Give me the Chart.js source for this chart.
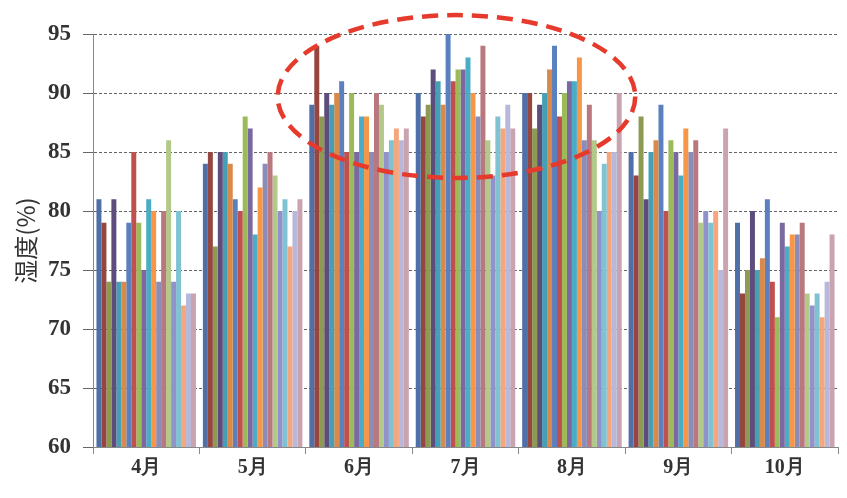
<!DOCTYPE html>
<html><head><meta charset="utf-8">
<script src="https://cdn.jsdelivr.net/npm/chart.js@4"></script>
<style>html,body{margin:0;padding:0;background:#fff}#wrap{width:847px;height:498px;position:relative}</style>
</head><body><div id="wrap"><canvas id="c" width="847" height="498"></canvas></div>
<script>
const months = ['4月','5月','6月','7月','8月','9月','10月'];
const apr = [81,79,74,81,74,74,79,85,79,75,81,80,74,80,86,74,80,72,73,73];
const may = [84,85,77,85,85,84,81,80,88,87,78,82,84,85,83,80,81,77,80,81];
const jun = [89,94,88,90,89,90,91,85,90,85,88,88,85,90,89,85,86,87,86,87];
const jul = [90,88,89,92,91,89,95,91,92,92,93,90,88,94,86,83,88,87,89,87];
const aug = [90,90,87,89,90,92,94,88,90,91,91,93,86,89,86,80,84,85,85,90];
const sep = [85,83,88,81,85,86,89,80,86,85,83,87,85,86,79,80,79,80,75,87];
const oct = [79,73,75,80,75,76,81,74,71,79,77,78,78,79,73,72,73,71,74,78];
const yTicks = [60,65,70,75,80,85,90,95];
const yTitle = '湿度(%)';
// annotation ellipse (in data units: category index and humidity)
const ellCenterIdx = 2.915, ellHalfWidthIdx = 1.68, ellTop = 96.6, ellBottom = 82.8;

const colors = ['#4F6FA8','#94463F','#8D9A52','#5C4D7D','#46A0B5','#D98A4A','#5A80C0','#C0504D','#9BBB59','#7B68A0',
                '#4BACC6','#F79646','#8A8DBA','#B9787E','#B3C98A','#8F93C9','#7FC3D3','#F4A77E','#B8B8DA','#C9A3B0'];
const byMonth = [apr, may, jun, jul, aug, sep, oct];
const datasets = colors.map((c,i)=>({
  label:'S'+(i+1), data: byMonth.map(m=>m[i]), backgroundColor:c, borderWidth:0,
  barPercentage:1, categoryPercentage:0.935
}));

const ellipsePlugin = {
  id:'ellipse',
  afterDatasetsDraw(chart){
    const {ctx, scales:{x,y}} = chart;
    const cx = x.getPixelForValue(ellCenterIdx);
    const rx = x.getPixelForValue(ellCenterIdx+ellHalfWidthIdx) - cx;
    const yt = y.getPixelForValue(ellTop), yb = y.getPixelForValue(ellBottom);
    ctx.save();
    ctx.beginPath();
    ctx.ellipse(cx,(yt+yb)/2,rx,(yb-yt)/2,0,0,Math.PI*2);
    ctx.setLineDash([16,9]);
    ctx.lineWidth = 4.5;
    ctx.strokeStyle = '#E53A2C';
    ctx.stroke();
    ctx.restore();
  }
};

new Chart(document.getElementById('c').getContext('2d'), {
  type:'bar',
  data:{labels:months, datasets},
  plugins:[ellipsePlugin],
  options:{
    responsive:false, animation:false, devicePixelRatio:1,
    layout:{padding:{top:34,right:9,left:0,bottom:0}},
    plugins:{legend:{display:false}, tooltip:{enabled:false}},
    scales:{
      x:{
        grid:{display:true, drawOnChartArea:false, drawTicks:true, tickLength:7, color:'#888', offset:true},
        border:{display:true, color:'#888'},
        ticks:{font:{family:'Liberation Serif', size:20, weight:'bold'}, color:'#333', padding:2},
        afterFit:s=>{s.height=51;}
      },
      y:{
        min:60, max:95,
        afterBuildTicks:s=>{s.ticks = yTicks.map(v=>({value:v}));},
        ticks:{font:{family:'Liberation Serif', size:23, weight:'bold'}, color:'#333', padding:12},
        grid:{color:'#666', tickLength:10},
        border:{display:true, color:'#888', dash:[3,2]},
        title:{display:true, text:yTitle, font:{family:'Noto Sans CJK SC', size:24}, color:'#333', padding:{top:11,bottom:0}},
        afterFit:s=>{s.width=93;}
      }
    }
  }
});
</script></body></html>
